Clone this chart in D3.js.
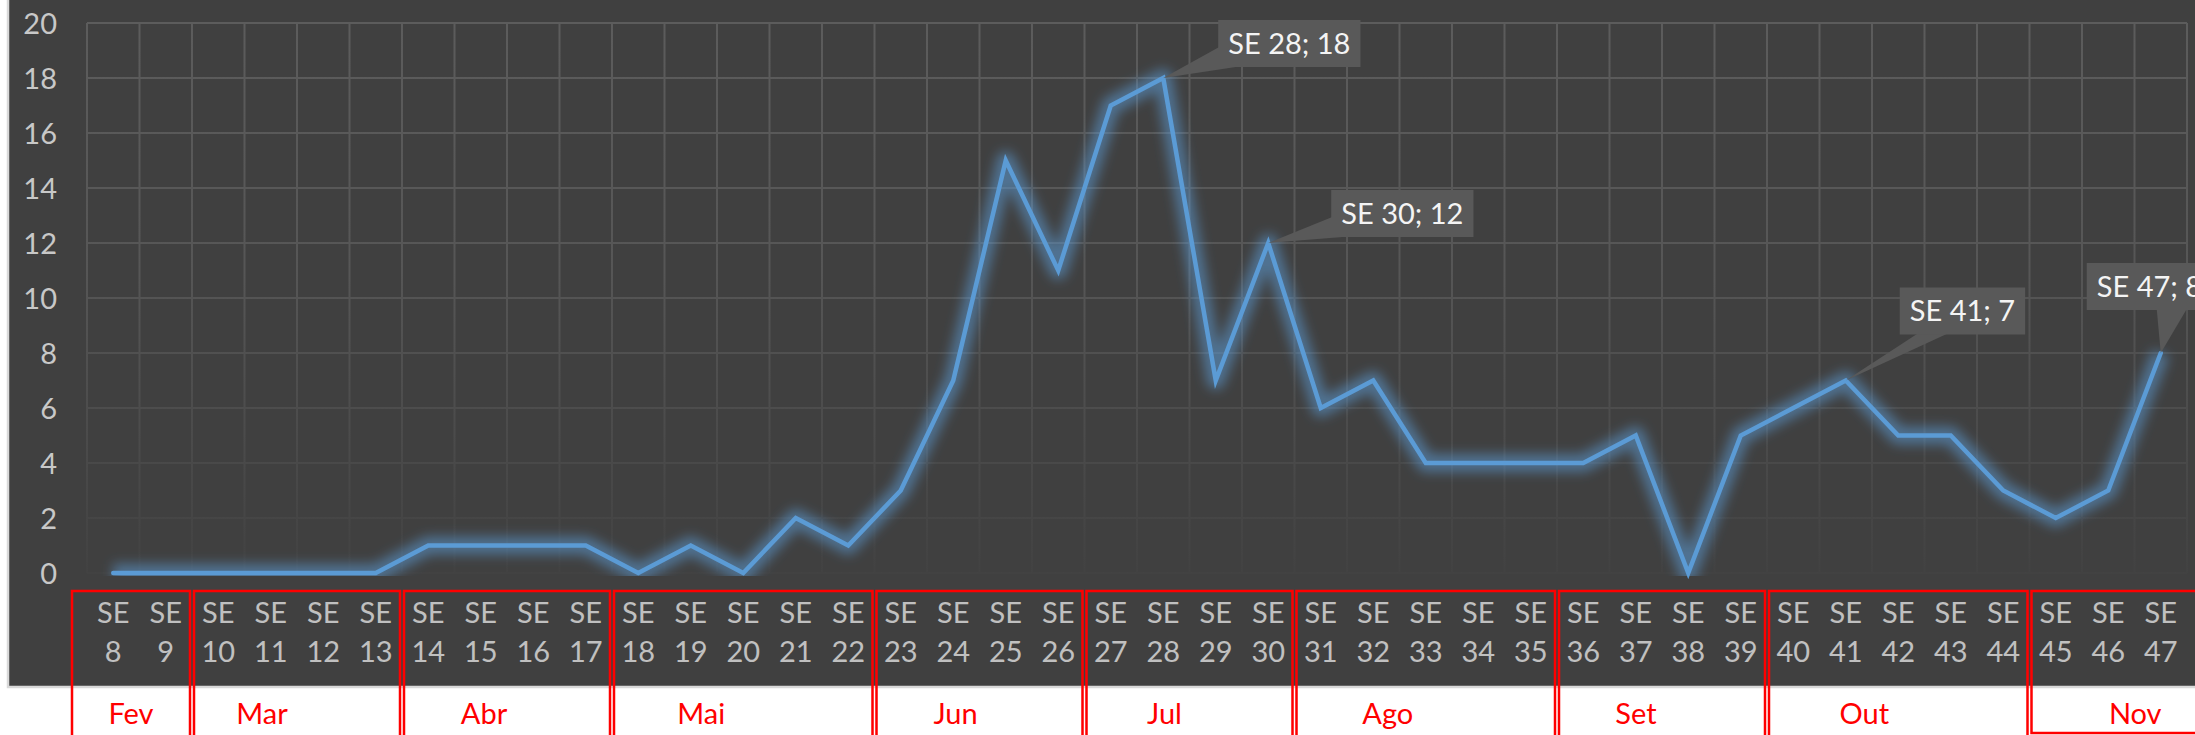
<!DOCTYPE html>
<html>
<head>
<meta charset="utf-8">
<script src="https://cdn.jsdelivr.net/npm/d3@7"></script>
<style>
  body { margin: 0; background: #fff; }
  svg { display: block; font-family: Lato, "Open Sans", sans-serif; }
</style>
</head>
<body>
<svg class="chart"></svg>
<script>
// DATA /////////////////////////////////
const weeks = [8, 9, 10, 11, 12, 13, 14, 15, 16, 17, 18, 19, 20, 21, 22, 23, 24, 25, 26, 27,
  28, 29, 30, 31, 32, 33, 34, 35, 36, 37, 38, 39, 40, 41, 42, 43, 44, 45, 46, 47];
const cases = [0, 0, 0, 0, 0, 0, 1, 1, 1, 1, 0, 1, 0, 2, 1, 3, 7, 15, 11, 17,
  18, 7, 12, 6, 7, 4, 4, 4, 4, 5, 0, 5, 6, 7, 5, 5, 3, 2, 3, 8];
const yTicks = [0, 2, 4, 6, 8, 10, 12, 14, 16, 18, 20];
const months = ["Fev", "Mar", "Abr", "Mai", "Jun", "Jul", "Ago", "Set", "Out", "Nov"];
const monthFirstWeek = [8, 10, 14, 18, 23, 27, 31, 36, 40, 45];
const monthLastWeek = [9, 13, 17, 22, 26, 30, 35, 39, 44, 47];
const labelledWeeks = [28, 30, 41, 47];

// LAYOUT /////////////////////////////////
const W = 2195, H = 735;
const plot = { left: 87, right: 2187, top: 23, bottom: 573 };
// where each data callout sits relative to its point
const calloutOffset = { 28: [55, -58], 30: [63, -53], 41: [54, -93], 47: [-74, -90] };
// hand placed month captions: nudge from the box centre
const monthLabelNudge = [0, -35, -23, -42, -24, -25, -38, -26, -34, 17];

const svg = d3.select(".chart").attr("width", W).attr("height", H);

const x = d3.scaleBand().domain(weeks).range([plot.left, plot.right]);
const y = d3.scaleLinear().domain([0, 20]).range([plot.bottom, plot.top]);
const cx = (w) => x(w) + x.bandwidth() / 2;

const defs = svg.append("defs");
const grad = defs.append("linearGradient")
  .attr("id", "gridFade").attr("gradientUnits", "userSpaceOnUse")
  .attr("x1", 0).attr("x2", 0).attr("y1", plot.top).attr("y2", plot.bottom);
grad.append("stop").attr("offset", "0%").attr("stop-color", "#5c5c5c");
grad.append("stop").attr("offset", "45%").attr("stop-color", "#565656");
grad.append("stop").attr("offset", "100%").attr("stop-color", "#424242");

defs.append("filter").attr("id", "glow")
  .attr("x", "-5%").attr("y", "-20%").attr("width", "110%").attr("height", "140%")
  .append("feGaussianBlur").attr("stdDeviation", 6);

defs.append("clipPath").attr("id", "plotClip")
  .append("rect").attr("x", 0).attr("y", 0).attr("width", W).attr("height", plot.bottom + 3);

// chart area background
svg.append("rect")
  .attr("x", 8).attr("y", -4).attr("width", W + 10).attr("height", 691)
  .attr("fill", "#404040").attr("stroke", "#d9d9d9").attr("stroke-width", 2.5);

// GRIDLINES /////////////////////////////////
const grid = svg.append("g").attr("stroke", "url(#gridFade)").attr("stroke-width", 2);
grid.selectAll(".hgrid").data(yTicks).join("line")
  .attr("class", "hgrid")
  .attr("x1", plot.left).attr("x2", plot.right)
  .attr("y1", (d) => y(d)).attr("y2", (d) => y(d));
grid.selectAll(".vgrid").data(weeks.concat(["end"])).join("line")
  .attr("class", "vgrid")
  .attr("x1", (d) => (d === "end" ? plot.right : x(d)))
  .attr("x2", (d) => (d === "end" ? plot.right : x(d)))
  .attr("y1", plot.top).attr("y2", plot.bottom);

// AXES /////////////////////////////////
const yAxis = svg.append("g")
  .attr("transform", `translate(${plot.left},0)`)
  .call(d3.axisLeft(y).tickValues(yTicks).tickSize(0).tickPadding(30));
yAxis.select(".domain").remove();
yAxis.selectAll("text")
  .attr("fill", "#c8c8c8").style("font-size", "29px").style("font-family", "Lato, sans-serif")
  .attr("dy", "0.36em");

const xAxis = svg.append("g")
  .attr("transform", `translate(0,${plot.bottom})`)
  .call(d3.axisBottom(x).tickSize(0));
xAxis.select(".domain").remove();
xAxis.selectAll("text")
  .attr("fill", "#c0c0c0").style("font-size", "29px").style("font-family", "Lato, sans-serif")
  .attr("y", 0).attr("dy", null)
  .text(null)
  .call((t) => {
    t.append("tspan").attr("x", 0).attr("y", 50).text("SE");
    t.append("tspan").attr("x", 0).attr("y", 89).text((d) => d);
  });

// LINE /////////////////////////////////
const line = d3.line().x((d, i) => cx(weeks[i])).y((d) => y(d));

svg.append("path")
  .datum(cases)
  .attr("d", line)
  .attr("fill", "none")
  .attr("stroke", "#5b9bd5")
  .attr("stroke-width", 18)
  .attr("stroke-opacity", 0.55)
  .attr("stroke-linejoin", "round")
  .attr("filter", "url(#glow)")
  .attr("clip-path", "url(#plotClip)");

svg.append("path")
  .datum(cases)
  .attr("d", line)
  .attr("fill", "none")
  .attr("stroke", "#5b9bd5")
  .attr("stroke-width", 4.5)
  .attr("stroke-linejoin", "miter")
  .attr("stroke-linecap", "round");

// CALLOUTS /////////////////////////////////
const callG = svg.selectAll(".callout").data(labelledWeeks).join("g").attr("class", "callout");
callG.each(function (w) {
  const g = d3.select(this);
  const px = cx(w), py = y(cases[weeks.indexOf(w)]);
  const [dx, dy] = calloutOffset[w];
  const bx = px + dx, by = py + dy, bh = 47;
  const txt = g.append("text")
    .attr("fill", "#f4f4f4").style("font-size", "29px")
    .attr("x", bx + 10).attr("y", by + bh / 2 + 10)
    .text(`SE ${w}; ${cases[weeks.indexOf(w)]}`);
  const bw = txt.node().getComputedTextLength() + 20;
  let tail;
  if (py > by + bh + 20) {
    const t0 = Math.max(bx + 18, Math.min(px - 4, bx + bw - 30));
    tail = [[t0, by + bh - 1], [t0 + 30, by + bh - 1], [px, py]];
  } else {
    tail = [[bx + 1, by + bh - 20], [bx + 24, by + bh - 1], [px, py]];
  }
  g.insert("path", "text").attr("d", d3.line()(tail) + "Z").attr("fill", "#595959");
  g.insert("rect", "text")
    .attr("x", bx).attr("y", by).attr("width", bw).attr("height", bh)
    .attr("fill", "#595959");
});

// MONTH BOXES /////////////////////////////////
const last = months.length - 1;
const boxLeft = (i) => (i === 0 ? plot.left - 15 : x(monthFirstWeek[i]) + 2);
const boxRight = (i) => (i === last ? W + 10 : x(monthLastWeek[i]) + x.bandwidth() - 2);

const monthG = svg.selectAll(".month").data(months).join("g").attr("class", "month");
monthG.append("rect")
  .attr("x", (d, i) => boxLeft(i))
  .attr("y", 591)
  .attr("width", (d, i) => boxRight(i) - boxLeft(i))
  .attr("height", (d, i) => (i === last ? 142 : 160))
  .attr("fill", "none")
  .attr("stroke", "#ff0000")
  .attr("stroke-width", 2.5);

monthG.append("text")
  .attr("x", (d, i) => (boxLeft(i) + Math.min(boxRight(i), W + 10)) / 2 + monthLabelNudge[i])
  .attr("y", 724)
  .attr("text-anchor", "middle")
  .attr("fill", "#ff0000")
  .style("font-size", "29px")
  .text((d) => d);
</script>
</body>
</html>
